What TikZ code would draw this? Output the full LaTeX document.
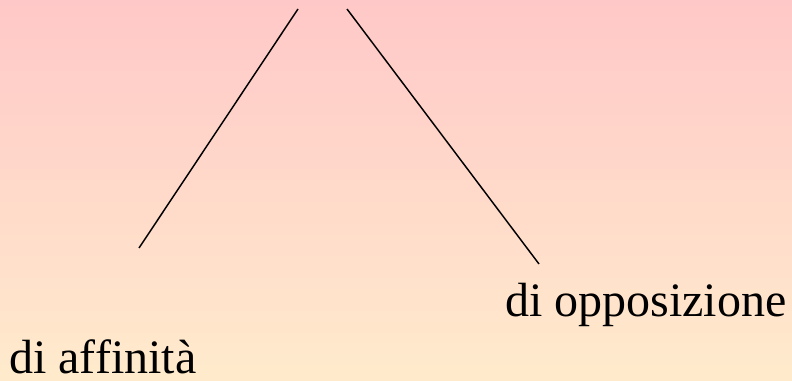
\documentclass[tikz,border=0pt]{standalone}
\usepackage{fontspec}
\setmainfont{Liberation Serif}
\usetikzlibrary{positioning}

\begin{document}
\begin{tikzpicture}[x=0.75pt,y=-0.75pt,
every node/.style = {
inner sep      = 0pt,
text           = black,
font           = \fontsize{36}{40}\selectfont},
branch/.style  = { -,
line width = 1.1pt,
black}
]
\shade[top color={rgb,255:red,255;green,200;blue,200},
bottom color={rgb,255:red,255;green,235;blue,204}]
(0,0) rectangle (792,381);
\useasboundingbox (0,0) rectangle (792,381);
%
\coordinate (topl) at (298,9);
\coordinate (topr) at (347,9);
\coordinate (endl) at (139,248);
\coordinate (endr) at (539,264);
\node[anchor=base west] (affin) at (9,373) {di affinità};
\node[anchor=base west] (oppos) at (505,316) {di opposizione};
%
\draw[branch] (topl)-- (endl);
\draw[branch] (topr)-- (endr);
%
\end{tikzpicture}
\end{document}
